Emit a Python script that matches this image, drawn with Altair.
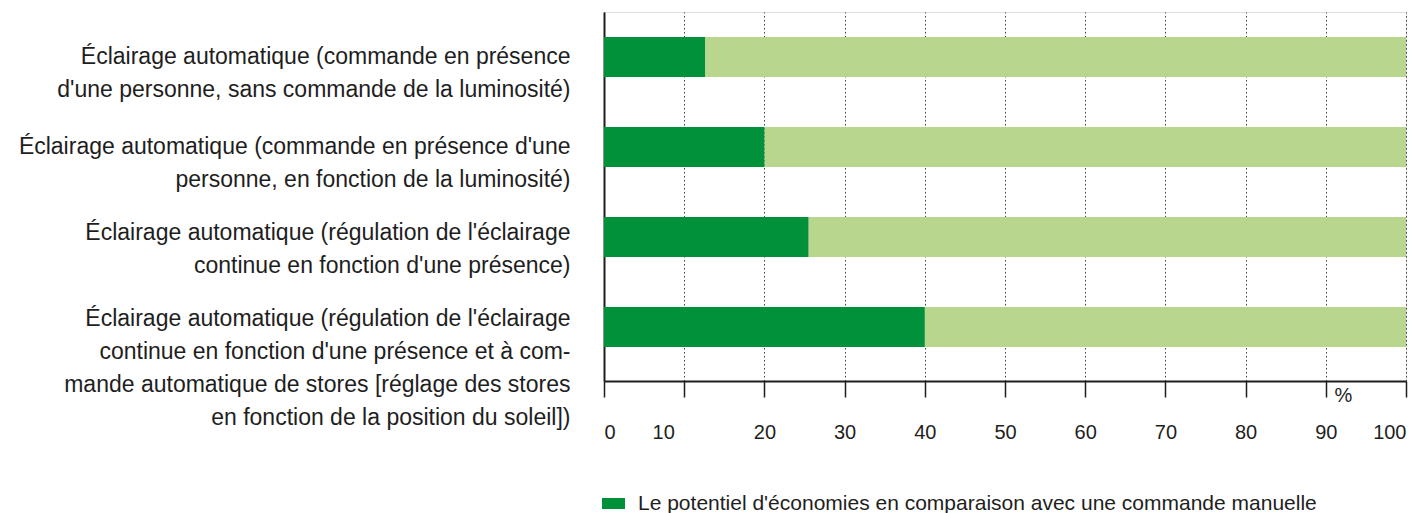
import altair as alt
import pandas as pd

categories = [
    "Éclairage automatique (commande en présence|d'une personne, sans commande de la luminosité)",
    "Éclairage automatique (commande en présence d'une|personne, en fonction de la luminosité)",
    "Éclairage automatique (régulation de l'éclairage|continue en fonction d'une présence)",
    "Éclairage automatique (régulation de l'éclairage|continue en fonction d'une présence et à com-|mande automatique de stores [réglage des stores|en fonction de la position du soleil])",
]
savings = [12.6, 20, 25.5, 40]
totals = [100, 100, 100, 100]
legend_label = "Le potentiel d'économies en comparaison avec une commande manuelle"
x_ticks = [0, 10, 20, 30, 40, 50, 60, 70, 80, 90, 100]

DARK = "#00913a"
LIGHT = "#b8d68e"
TEXT = "#1e1e1e"
FONT = "Liberation Sans"

df = pd.DataFrame({
    "cat": categories,
    "savings": savings,
    "total": totals,
    "series": [legend_label] * len(categories),
})

y_enc = alt.Y(
    "cat:N",
    sort=categories,
    scale=alt.Scale(paddingInner=0.5556, paddingOuter=0.3278, align=0.4237),
    axis=alt.Axis(
        title=None,
        labelExpr="split(datum.label, '|')",
        labelAlign="right",
        labelBaseline="alphabetic",
        labelFontSize=23,
        labelLineHeight=33,
        labelPadding=34,
        labelLimit=1000,
        labelColor=TEXT,
        labelFont=FONT,
        labelOffset={
            "condition": [
                {"test": "indexof(datum.value, 'soleil') >= 0", "value": -1},
                {"test": "indexof(datum.value, 'une présence)') >= 0", "value": 3},
            ],
            "value": 7,
        },
        ticks=False,
        tickSize=0,
        domainColor=TEXT,
        domainWidth=2,
        grid=False,
    ),
)

x_scale = alt.Scale(domain=[0, 100], nice=False, zero=True)

light = alt.Chart(df).mark_bar(color=LIGHT).encode(
    y=y_enc,
    x=alt.X("savings:Q", scale=x_scale),
    x2="total:Q",
)

dark = alt.Chart(df).mark_bar().encode(
    y=y_enc,
    x=alt.X(
        "savings:Q",
        scale=x_scale,
        axis=alt.Axis(
            values=x_ticks,
            title="%",
            titleX=739,
            titleY=14,
            titleAlign="center",
            titleBaseline="middle",
            titleFontSize=20,
            titleFontWeight="normal",
            titleFont=FONT,
            titleColor=TEXT,
            labelFontSize=20,
            labelFont=FONT,
            labelColor=TEXT,
            labelPadding=25,
            labelFlush=True,
            labelOffset={"condition": {"test": "datum.value == 10", "value": -21}, "value": 0},
            tickSize=16,
            tickWidth=1.5,
            tickColor=TEXT,
            domainColor=TEXT,
            domainWidth=2,
            grid=True,
            gridColor="#444444",
            gridDash=[1.5, 2.5],
            gridWidth=1,
        ),
    ),
    x2=alt.value(0),
    color=alt.Color(
        "series:N",
        scale=alt.Scale(domain=[legend_label], range=[DARK]),
        legend=alt.Legend(
            title=None,
            orient="none",
            legendX=-2,
            legendY=480,
            symbolType="M-1,-0.48H1V0.48H-1Z",
            symbolSize=529,
            symbolStrokeWidth=0,
            labelOffset=13,
            labelFontSize=21,
            labelFont=FONT,
            labelColor=TEXT,
            labelLimit=1000,
            padding=0,
        ),
    ),
)

chart = alt.layer(light, dark).properties(
    width=802,
    height=369,
    padding={"left": 596, "top": 4, "right": 12, "bottom": 140},
    autosize=alt.AutoSizeParams(type="none"),
).configure_view(stroke=None).configure(font=FONT)

chart.save("out.html", embed_options={"renderer": "svg", "actions": False})
